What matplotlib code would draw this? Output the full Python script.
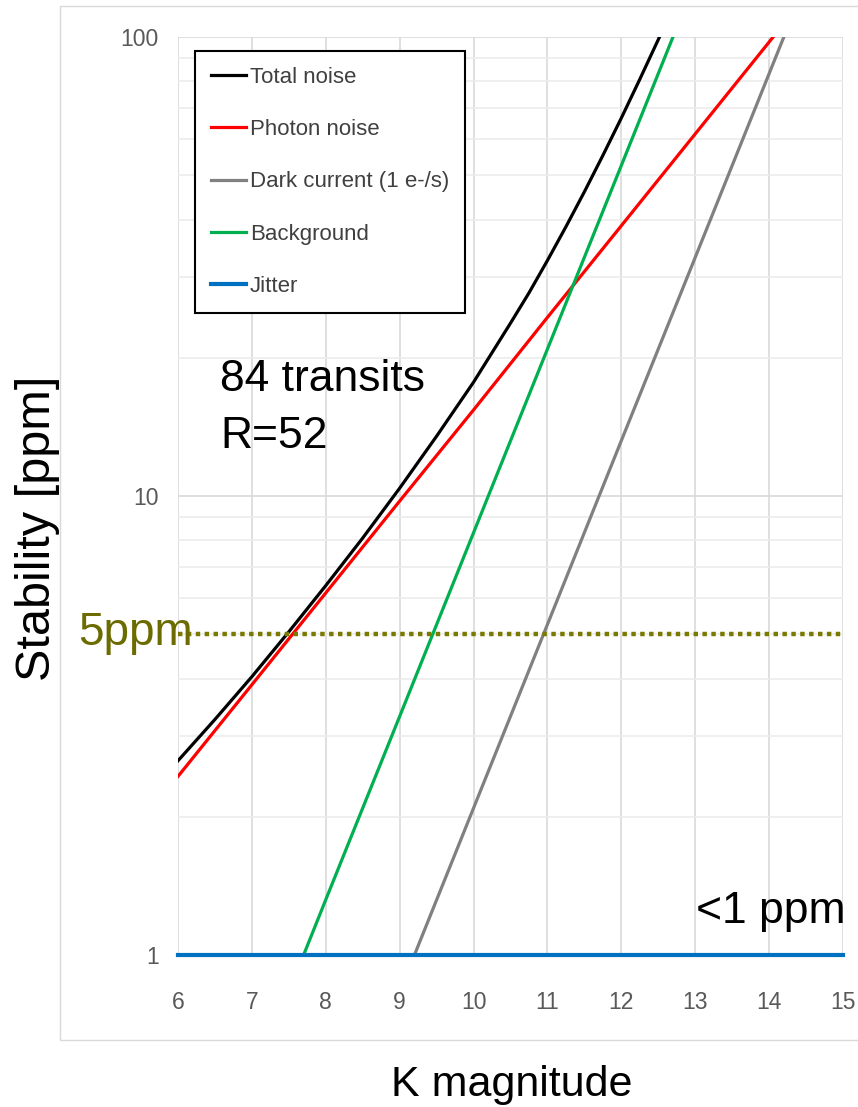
import numpy as np
import matplotlib.pyplot as plt
from matplotlib.patches import Rectangle

# values (K magnitude vs stability in ppm)
k_total = [6, 6.5, 7, 7.5, 8, 8.5, 9, 9.5, 10, 10.5, 10.75, 11, 11.25, 11.5, 11.75,
           12, 12.25, 12.5, 12.75, 13]
total = [2.65, 3.26, 4.04, 5.06, 6.38, 8.10, 10.4, 13.5, 17.7, 23.8, 27.7, 32.6, 38.6,
         46.0, 55.2, 66.6, 80.9, 98.7, 121, 149]
k_photon = [6, 7, 8, 9, 10, 11, 12, 13, 14, 14.5]
photon = [2.45, 3.88, 6.15, 9.75, 15.4, 24.5, 38.8, 61.5, 97.5, 123]
k_dark = [9.2, 10, 11, 12, 13, 14, 14.5]
dark = [1.0, 2.09, 5.25, 13.2, 33.1, 83.2, 132]
k_bg = [7.7, 8, 9, 10, 11, 12, 13]
background = [1.0, 1.32, 3.31, 8.32, 20.9, 52.5, 132]
k_jit = [6, 15]
jitter = [1.0, 1.0]
limit_5ppm = 5

font = ['Liberation Sans', 'DejaVu Sans']

fig = plt.figure(figsize=(8.58, 11.07), dpi=100)
# light outer chart border
fig.patches.append(Rectangle((60/858, 1-1040/1107), 1.0, 1040/1107-6/1107,
                             transform=fig.transFigure, fill=False,
                             edgecolor='#d9d9d9', linewidth=1))
ax = fig.add_axes([178/858, 1-955/1107, 665/858, 918/1107])
ax.set_yscale('log')
ax.set_xlim(6, 15)
ax.set_ylim(1, 100)

ax.plot(k_total, total, color='black', lw=2.3, label='Total noise')
ax.plot(k_photon, photon, color='#ff0000', lw=2.3, label='Photon noise')
ax.plot(k_dark, dark, color='#808080', lw=2.3, label='Dark current (1 e-/s)')
ax.plot(k_bg, background, color='#00b050', lw=2.3, label='Background')
ax.plot(k_jit, jitter, color='#0070c0', lw=3, label='Jitter', clip_on=False, zorder=5)
ax.plot([6, 15], [limit_5ppm, limit_5ppm], color='#7a7a00', lw=3.2,
        linestyle=(0, (1, 1)), clip_on=False)

for s in ax.spines.values():
    s.set_visible(False)
ax.set_xticks(range(6, 16))
ax.set_yticks([1, 10, 100])
ax.set_yticklabels(['1', '10', '100'])
ax.yaxis.set_minor_formatter(plt.NullFormatter())
ax.tick_params(which='both', length=0, colors='#595959', labelsize=16.5)
ax.tick_params(axis='x', pad=26)
ax.tick_params(axis='y', pad=14)
for lab in ax.get_xticklabels() + ax.get_yticklabels():
    lab.set_family(font)
ax.grid(True, which='major', color='#d9d9d9', lw=1.2)
ax.grid(True, which='minor', axis='y', color='#ececec', lw=1.2)
ax.set_axisbelow(True)

leg = ax.legend(loc='upper left', bbox_to_anchor=(0.0256, 0.985), borderaxespad=0,
                fancybox=False, edgecolor='black', framealpha=1, handlelength=1.58,
                handletextpad=0.18, labelspacing=1.41, borderpad=0.72,
                prop={'family': font, 'size': 16})
leg.get_frame().set_linewidth(1.5)
for t in leg.get_texts():
    t.set_color('#404040')

fig.text(220/858, 1-380/1107, '84 transits', fontsize=32, family=font, va='center')
fig.text(220/858, 1-437/1107, 'R=52', fontsize=32, family=font, va='center')
fig.text(845/858, 1-912/1107, '<1 ppm', fontsize=32, family=font, va='center', ha='right')
fig.text(78/858, 1-633/1107, '5ppm', fontsize=33, family=font, va='center', color='#6b6b00')
fig.text(38/858, 1-528/1107, 'Stability [ppm]', fontsize=35, family=font, va='center',
         ha='center', rotation=90)
fig.text(512/858, 1-1085/1107, 'K magnitude', fontsize=31, family=font, va='center',
         ha='center')

plt.savefig('out.png', dpi=100)
